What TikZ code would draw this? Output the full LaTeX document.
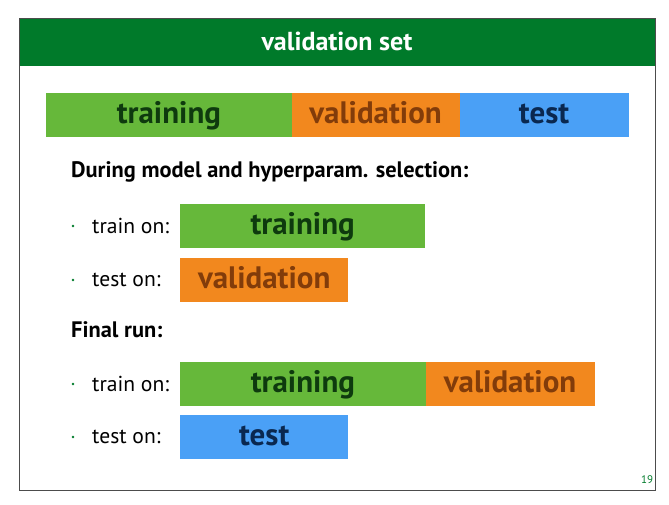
\documentclass[tikz,border=0pt]{standalone}
\usepackage{fontspec}
\setmainfont{PT Sans}
\usetikzlibrary{positioning}
\definecolor{titlegreen}{RGB}{0,122,42}
\definecolor{traingreen}{RGB}{102,184,58}
\definecolor{trainink}{RGB}{14,58,14}
\definecolor{valorange}{RGB}{242,136,30}
\definecolor{valink}{RGB}{130,60,10}
\definecolor{testblue}{RGB}{74,160,246}
\definecolor{testink}{RGB}{10,40,80}
\tikzset{
  block/.style = {minimum height=44pt, inner sep=0pt, anchor=west,
                  text height=22pt, text depth=6pt,
                  font=\fontsize{31}{33}\selectfont\bfseries},
  trainblock/.style = {block, fill=traingreen, text=trainink, minimum width=#1},
  valblock/.style = {block, fill=valorange, text=valink, minimum width=#1},
  testblock/.style = {block, fill=testblue, text=testink, minimum width=#1},
  heading/.style = {anchor=west, inner sep=0pt, font=\fontsize{22.4}{24}\selectfont\bfseries},
  item/.style = {anchor=west, inner sep=0pt, font=\fontsize{21.6}{24}\selectfont},
  bullet/.style = {circle, fill=titlegreen, inner sep=0pt, minimum size=2.6pt}
}
\begin{document}
\begin{tikzpicture}[x=1pt, y=-1pt]
\useasboundingbox (0,0) rectangle (669,504);
% frame and title bar
\fill[titlegreen] (19,18) rectangle (655,66);
\draw[black!70, line width=1pt] (19,18) rectangle (655,490);
\node (title) at (337,41) [text=white, font=\fontsize{26}{28}\selectfont\bfseries] {validation set};
% the whole split
\node (trainall) at (46,115) [trainblock=245.5pt] {training};
\node (valall) [valblock=168pt, right = -0.5pt of trainall] {validation};
\node (testall) [testblock=169pt, right = -0.5pt of valall] {test};
% model selection
\node (select) at (71,172) [heading] {During model and hyperparam. selection:};
\node (b1) at (73,226) [bullet] {};
\node (trainon1) at (92,226) [item] {train on:};
\node (train1) at (180,226) [trainblock=245pt] {training};
\node (b2) at (73,280) [bullet] {};
\node (teston1) at (92,280) [item] {test on:};
\node (val1) at (180,280) [valblock=168pt] {validation};
% final run
\node (final) at (71,330) [heading] {Final run:};
\node (b3) at (73,384) [bullet] {};
\node (trainon2) at (92,384) [item] {train on:};
\node (train2) at (180,384) [trainblock=245.5pt] {training};
\node (val2) [valblock=169pt, right = -0.5pt of train2] {validation};
\node (b4) at (73,437) [bullet] {};
\node (teston2) at (92,437) [item] {test on:};
\node (test2) at (180,437) [testblock=168pt] {test};
% page number
\node (page) at (647,480) [text=titlegreen, font=\fontsize{11}{12}\selectfont] {19};
\end{tikzpicture}
\end{document}
